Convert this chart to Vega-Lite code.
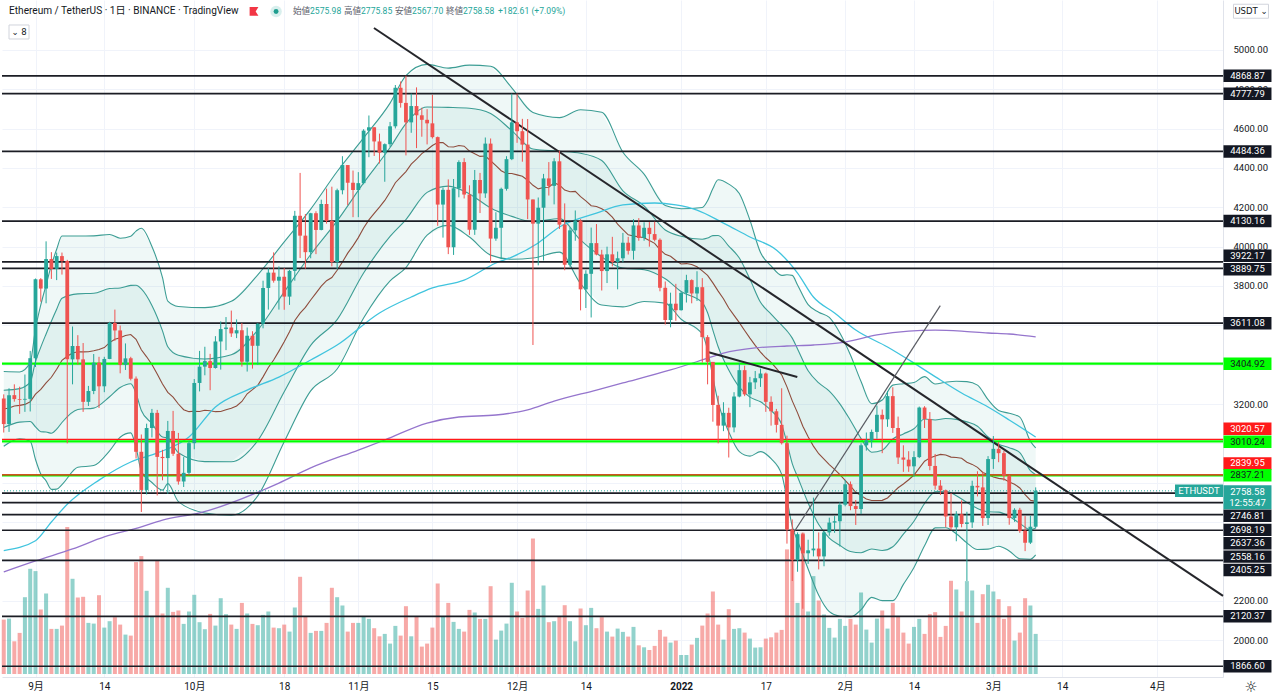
{
  "$schema": "https://vega.github.io/schema/vega-lite/v6.json",
  "width": 1221,
  "height": 677,
  "padding": 0,
  "autosize": {"type": "pad"},
  "background": "white",
  "config": {"view": {"stroke": null}, "text": {"font": "Roboto, Noto Sans CJK JP"}, "scale": {"continuousPadding": 0}},
  "datasets": {
    "k": [
      {"d":"2021-08-26","o":3228,"h":3249,"l":3055,"c":3098,"v":544,"m":3175},
      {"d":"2021-08-27","o":3098,"h":3280,"l":3058,"c":3245,"v":554,"m":3180},
      {"d":"2021-08-28","o":3245,"h":3300,"l":3212,"c":3225,"v":327,"m":3190},
      {"d":"2021-08-29","o":3225,"h":3288,"l":3150,"c":3222,"v":411,"m":3193},
      {"d":"2021-08-30","o":3222,"h":3350,"l":3160,"c":3226,"v":768,"m":3198},
      {"d":"2021-08-31","o":3226,"h":3470,"l":3162,"c":3433,"v":1052,"m":3211},
      {"d":"2021-09-01","o":3433,"h":3838,"l":3388,"c":3834,"v":1029,"m":3250},
      {"d":"2021-09-02","o":3834,"h":3840,"l":3720,"c":3787,"v":645,"m":3274},
      {"d":"2021-09-03","o":3787,"h":4027,"l":3712,"c":3937,"v":805,"m":3307},
      {"d":"2021-09-04","o":3937,"h":3972,"l":3836,"c":3887,"v":451,"m":3336},
      {"d":"2021-09-05","o":3887,"h":3970,"l":3830,"c":3952,"v":451,"m":3377},
      {"d":"2021-09-06","o":3952,"h":3970,"l":3858,"c":3927,"v":484,"m":3422},
      {"d":"2021-09-07","o":3927,"h":3933,"l":3000,"c":3427,"v":1470,"m":3443},
      {"d":"2021-09-08","o":3427,"h":3594,"l":3300,"c":3495,"v":952,"m":3459},
      {"d":"2021-09-09","o":3495,"h":3550,"l":3400,"c":3427,"v":765,"m":3466},
      {"d":"2021-09-10","o":3427,"h":3510,"l":3160,"c":3211,"v":772,"m":3465},
      {"d":"2021-09-11","o":3211,"h":3292,"l":3190,"c":3266,"v":511,"m":3466},
      {"d":"2021-09-12","o":3266,"h":3454,"l":3250,"c":3410,"v":504,"m":3471},
      {"d":"2021-09-13","o":3410,"h":3440,"l":3180,"c":3290,"v":788,"m":3477},
      {"d":"2021-09-14","o":3290,"h":3440,"l":3260,"c":3429,"v":464,"m":3487},
      {"d":"2021-09-15","o":3429,"h":3618,"l":3428,"c":3612,"v":528,"m":3512},
      {"d":"2021-09-16","o":3612,"h":3680,"l":3521,"c":3574,"v":568,"m":3529},
      {"d":"2021-09-17","o":3574,"h":3599,"l":3356,"c":3399,"v":494,"m":3537},
      {"d":"2021-09-18","o":3399,"h":3508,"l":3373,"c":3432,"v":394,"m":3548},
      {"d":"2021-09-19","o":3432,"h":3440,"l":3320,"c":3329,"v":384,"m":3553},
      {"d":"2021-09-20","o":3329,"h":3340,"l":2923,"c":2957,"v":1119,"m":3529},
      {"d":"2021-09-21","o":2957,"h":3045,"l":2651,"c":2763,"v":1179,"m":3476},
      {"d":"2021-09-22","o":2763,"h":3100,"l":2740,"c":3078,"v":832,"m":3440},
      {"d":"2021-09-23","o":3078,"h":3175,"l":3030,"c":3155,"v":578,"m":3401},
      {"d":"2021-09-24","o":3155,"h":3170,"l":2735,"c":2931,"v":1136,"m":3353},
      {"d":"2021-09-25","o":2931,"h":2967,"l":2812,"c":2925,"v":605,"m":3302},
      {"d":"2021-09-26","o":2925,"h":3114,"l":2743,"c":3063,"v":862,"m":3259},
      {"d":"2021-09-27","o":3063,"h":3165,"l":2936,"c":2947,"v":621,"m":3235},
      {"d":"2021-09-28","o":2947,"h":3053,"l":2790,"c":2806,"v":635,"m":3200},
      {"d":"2021-09-29","o":2806,"h":2930,"l":2778,"c":2850,"v":501,"m":3171},
      {"d":"2021-09-30","o":2850,"h":3013,"l":2840,"c":3001,"v":625,"m":3161},
      {"d":"2021-10-01","o":3001,"h":3327,"l":2970,"c":3307,"v":792,"m":3163},
      {"d":"2021-10-02","o":3307,"h":3470,"l":3264,"c":3390,"v":518,"m":3162},
      {"d":"2021-10-03","o":3390,"h":3491,"l":3346,"c":3418,"v":448,"m":3168},
      {"d":"2021-10-04","o":3418,"h":3455,"l":3270,"c":3383,"v":601,"m":3166},
      {"d":"2021-10-05","o":3383,"h":3545,"l":3380,"c":3518,"v":484,"m":3161},
      {"d":"2021-10-06","o":3518,"h":3620,"l":3375,"c":3581,"v":758,"m":3162},
      {"d":"2021-10-07","o":3581,"h":3642,"l":3474,"c":3589,"v":598,"m":3171},
      {"d":"2021-10-08","o":3589,"h":3675,"l":3541,"c":3559,"v":494,"m":3178},
      {"d":"2021-10-09","o":3559,"h":3630,"l":3535,"c":3575,"v":451,"m":3190},
      {"d":"2021-10-10","o":3575,"h":3612,"l":3390,"c":3415,"v":711,"m":3213},
      {"d":"2021-10-11","o":3415,"h":3589,"l":3365,"c":3547,"v":605,"m":3252},
      {"d":"2021-10-12","o":3547,"h":3570,"l":3380,"c":3496,"v":501,"m":3273},
      {"d":"2021-10-13","o":3496,"h":3611,"l":3400,"c":3608,"v":488,"m":3295},
      {"d":"2021-10-14","o":3608,"h":3827,"l":3585,"c":3790,"v":591,"m":3338},
      {"d":"2021-10-15","o":3790,"h":3890,"l":3680,"c":3868,"v":625,"m":3386},
      {"d":"2021-10-16","o":3868,"h":3971,"l":3817,"c":3827,"v":464,"m":3424},
      {"d":"2021-10-17","o":3827,"h":3900,"l":3680,"c":3847,"v":458,"m":3469},
      {"d":"2021-10-18","o":3847,"h":3891,"l":3679,"c":3746,"v":494,"m":3516},
      {"d":"2021-10-19","o":3746,"h":3882,"l":3704,"c":3877,"v":424,"m":3567},
      {"d":"2021-10-20","o":3877,"h":4182,"l":3827,"c":4157,"v":665,"m":3625},
      {"d":"2021-10-21","o":4157,"h":4375,"l":3942,"c":4056,"v":972,"m":3662},
      {"d":"2021-10-22","o":4056,"h":4166,"l":3888,"c":3972,"v":574,"m":3691},
      {"d":"2021-10-23","o":3972,"h":4172,"l":3941,"c":4170,"v":411,"m":3729},
      {"d":"2021-10-24","o":4170,"h":4180,"l":3962,"c":4085,"v":431,"m":3764},
      {"d":"2021-10-25","o":4085,"h":4239,"l":4083,"c":4217,"v":431,"m":3799},
      {"d":"2021-10-26","o":4217,"h":4295,"l":4117,"c":4131,"v":511,"m":3827},
      {"d":"2021-10-27","o":4131,"h":4305,"l":3900,"c":3922,"v":862,"m":3843},
      {"d":"2021-10-28","o":3922,"h":4295,"l":3885,"c":4287,"v":768,"m":3880},
      {"d":"2021-10-29","o":4287,"h":4460,"l":4266,"c":4415,"v":685,"m":3922},
      {"d":"2021-10-30","o":4415,"h":4415,"l":4211,"c":4325,"v":424,"m":3967},
      {"d":"2021-10-31","o":4325,"h":4387,"l":4150,"c":4288,"v":511,"m":4004},
      {"d":"2021-11-01","o":4288,"h":4379,"l":4150,"c":4323,"v":511,"m":4046},
      {"d":"2021-11-02","o":4323,"h":4597,"l":4317,"c":4590,"v":571,"m":4095},
      {"d":"2021-11-03","o":4590,"h":4667,"l":4455,"c":4607,"v":551,"m":4136},
      {"d":"2021-11-04","o":4607,"h":4607,"l":4461,"c":4535,"v":458,"m":4169},
      {"d":"2021-11-05","o":4535,"h":4575,"l":4423,"c":4478,"v":377,"m":4201},
      {"d":"2021-11-06","o":4478,"h":4525,"l":4330,"c":4521,"v":401,"m":4235},
      {"d":"2021-11-07","o":4521,"h":4634,"l":4507,"c":4612,"v":304,"m":4278},
      {"d":"2021-11-08","o":4612,"h":4822,"l":4601,"c":4808,"v":481,"m":4325},
      {"d":"2021-11-09","o":4808,"h":4840,"l":4707,"c":4731,"v":384,"m":4354},
      {"d":"2021-11-10","o":4731,"h":4869,"l":4464,"c":4632,"v":678,"m":4382},
      {"d":"2021-11-11","o":4632,"h":4778,"l":4579,"c":4715,"v":377,"m":4420},
      {"d":"2021-11-12","o":4715,"h":4810,"l":4501,"c":4668,"v":571,"m":4445},
      {"d":"2021-11-13","o":4668,"h":4706,"l":4559,"c":4645,"v":274,"m":4473},
      {"d":"2021-11-14","o":4645,"h":4699,"l":4520,"c":4627,"v":304,"m":4493},
      {"d":"2021-11-15","o":4627,"h":4772,"l":4550,"c":4557,"v":464,"m":4514},
      {"d":"2021-11-16","o":4557,"h":4560,"l":4106,"c":4214,"v":905,"m":4529},
      {"d":"2021-11-17","o":4214,"h":4300,"l":4046,"c":4289,"v":578,"m":4529},
      {"d":"2021-11-18","o":4289,"h":4342,"l":3962,"c":3997,"v":711,"m":4508},
      {"d":"2021-11-19","o":3997,"h":4344,"l":3958,"c":4297,"v":521,"m":4507},
      {"d":"2021-11-20","o":4297,"h":4439,"l":4251,"c":4430,"v":451,"m":4514},
      {"d":"2021-11-21","o":4430,"h":4450,"l":4245,"c":4265,"v":424,"m":4511},
      {"d":"2021-11-22","o":4265,"h":4312,"l":4060,"c":4086,"v":641,"m":4486},
      {"d":"2021-11-23","o":4086,"h":4390,"l":4060,"c":4339,"v":615,"m":4472},
      {"d":"2021-11-24","o":4339,"h":4375,"l":4171,"c":4271,"v":551,"m":4459},
      {"d":"2021-11-25","o":4271,"h":4555,"l":4248,"c":4524,"v":551,"m":4461},
      {"d":"2021-11-26","o":4524,"h":4550,"l":3919,"c":4041,"v":878,"m":4437},
      {"d":"2021-11-27","o":4041,"h":4175,"l":4030,"c":4096,"v":344,"m":4412},
      {"d":"2021-11-28","o":4096,"h":4300,"l":3936,"c":4294,"v":434,"m":4386},
      {"d":"2021-11-29","o":4294,"h":4460,"l":4285,"c":4445,"v":504,"m":4372},
      {"d":"2021-11-30","o":4445,"h":4778,"l":4440,"c":4632,"v":912,"m":4372},
      {"d":"2021-12-01","o":4632,"h":4778,"l":4528,"c":4587,"v":625,"m":4365},
      {"d":"2021-12-02","o":4587,"h":4650,"l":4432,"c":4519,"v":561,"m":4358},
      {"d":"2021-12-03","o":4519,"h":4649,"l":4140,"c":4240,"v":835,"m":4338},
      {"d":"2021-12-04","o":4240,"h":4240,"l":3500,"c":4117,"v":1356,"m":4312},
      {"d":"2021-12-05","o":4117,"h":4250,"l":3905,"c":4198,"v":651,"m":4294},
      {"d":"2021-12-06","o":4198,"h":4370,"l":3930,"c":4347,"v":885,"m":4301},
      {"d":"2021-12-07","o":4347,"h":4430,"l":4260,"c":4309,"v":518,"m":4302},
      {"d":"2021-12-08","o":4309,"h":4450,"l":4215,"c":4434,"v":528,"m":4324},
      {"d":"2021-12-09","o":4434,"h":4488,"l":4090,"c":4112,"v":571,"m":4314},
      {"d":"2021-12-10","o":4112,"h":4220,"l":3880,"c":3908,"v":688,"m":4288},
      {"d":"2021-12-11","o":3908,"h":4098,"l":3898,"c":4083,"v":528,"m":4279},
      {"d":"2021-12-12","o":4083,"h":4184,"l":4030,"c":4132,"v":327,"m":4281},
      {"d":"2021-12-13","o":4132,"h":4140,"l":3676,"c":3783,"v":655,"m":4254},
      {"d":"2021-12-14","o":3783,"h":3880,"l":3688,"c":3862,"v":488,"m":4233},
      {"d":"2021-12-15","o":3862,"h":4097,"l":3640,"c":4018,"v":661,"m":4208},
      {"d":"2021-12-16","o":4018,"h":4115,"l":3956,"c":3960,"v":458,"m":4204},
      {"d":"2021-12-17","o":3960,"h":3984,"l":3777,"c":3876,"v":568,"m":4193},
      {"d":"2021-12-18","o":3876,"h":4000,"l":3815,"c":3961,"v":424,"m":4176},
      {"d":"2021-12-19","o":3961,"h":4050,"l":3900,"c":3922,"v":374,"m":4150},
      {"d":"2021-12-20","o":3922,"h":3975,"l":3783,"c":3941,"v":454,"m":4115},
      {"d":"2021-12-21","o":3941,"h":4070,"l":3920,"c":4020,"v":421,"m":4087},
      {"d":"2021-12-22","o":4020,"h":4050,"l":3960,"c":3979,"v":374,"m":4060},
      {"d":"2021-12-23","o":3979,"h":4140,"l":3934,"c":4108,"v":471,"m":4054},
      {"d":"2021-12-24","o":4108,"h":4145,"l":4030,"c":4044,"v":287,"m":4050},
      {"d":"2021-12-25","o":4044,"h":4124,"l":4030,"c":4096,"v":267,"m":4045},
      {"d":"2021-12-26","o":4096,"h":4125,"l":4000,"c":4064,"v":240,"m":4031},
      {"d":"2021-12-27","o":4064,"h":4127,"l":4027,"c":4035,"v":281,"m":4017},
      {"d":"2021-12-28","o":4035,"h":4042,"l":3773,"c":3791,"v":441,"m":3985},
      {"d":"2021-12-29","o":3791,"h":3823,"l":3604,"c":3627,"v":374,"m":3961},
      {"d":"2021-12-30","o":3627,"h":3766,"l":3590,"c":3710,"v":314,"m":3951},
      {"d":"2021-12-31","o":3710,"h":3811,"l":3623,"c":3677,"v":334,"m":3930},
      {"d":"2022-01-01","o":3677,"h":3770,"l":3675,"c":3765,"v":190,"m":3912},
      {"d":"2022-01-02","o":3765,"h":3857,"l":3716,"c":3830,"v":190,"m":3914},
      {"d":"2022-01-03","o":3830,"h":3834,"l":3712,"c":3762,"v":294,"m":3909},
      {"d":"2022-01-04","o":3762,"h":3875,"l":3724,"c":3794,"v":361,"m":3898},
      {"d":"2022-01-05","o":3794,"h":3840,"l":3410,"c":3540,"v":484,"m":3877},
      {"d":"2022-01-06","o":3540,"h":3550,"l":3300,"c":3414,"v":605,"m":3854},
      {"d":"2022-01-07","o":3414,"h":3414,"l":3110,"c":3195,"v":825,"m":3816},
      {"d":"2022-01-08","o":3195,"h":3242,"l":3000,"c":3090,"v":494,"m":3774},
      {"d":"2022-01-09","o":3090,"h":3209,"l":3062,"c":3155,"v":344,"m":3735},
      {"d":"2022-01-10","o":3155,"h":3181,"l":2928,"c":3081,"v":648,"m":3688},
      {"d":"2022-01-11","o":3081,"h":3260,"l":3056,"c":3238,"v":451,"m":3651},
      {"d":"2022-01-12","o":3238,"h":3410,"l":3234,"c":3372,"v":458,"m":3614},
      {"d":"2022-01-13","o":3372,"h":3395,"l":3240,"c":3249,"v":414,"m":3574},
      {"d":"2022-01-14","o":3249,"h":3338,"l":3184,"c":3310,"v":354,"m":3535},
      {"d":"2022-01-15","o":3310,"h":3368,"l":3276,"c":3331,"v":264,"m":3498},
      {"d":"2022-01-16","o":3331,"h":3380,"l":3287,"c":3355,"v":267,"m":3464},
      {"d":"2022-01-17","o":3355,"h":3360,"l":3160,"c":3211,"v":354,"m":3435},
      {"d":"2022-01-18","o":3211,"h":3239,"l":3090,"c":3163,"v":367,"m":3412},
      {"d":"2022-01-19","o":3163,"h":3175,"l":3055,"c":3094,"v":414,"m":3381},
      {"d":"2022-01-20","o":3094,"h":3280,"l":2994,"c":3001,"v":441,"m":3348},
      {"d":"2022-01-21","o":3001,"h":3039,"l":2490,"c":2561,"v":1246,"m":3287},
      {"d":"2022-01-22","o":2561,"h":2613,"l":2300,"c":2406,"v":1446,"m":3216},
      {"d":"2022-01-23","o":2406,"h":2547,"l":2347,"c":2538,"v":711,"m":3155},
      {"d":"2022-01-24","o":2538,"h":2546,"l":2159,"c":2441,"v":1413,"m":3087},
      {"d":"2022-01-25","o":2441,"h":2510,"l":2387,"c":2456,"v":625,"m":3033},
      {"d":"2022-01-26","o":2456,"h":2724,"l":2425,"c":2465,"v":979,"m":2986},
      {"d":"2022-01-27","o":2465,"h":2547,"l":2359,"c":2425,"v":735,"m":2947},
      {"d":"2022-01-28","o":2425,"h":2555,"l":2375,"c":2547,"v":595,"m":2920},
      {"d":"2022-01-29","o":2547,"h":2622,"l":2530,"c":2597,"v":461,"m":2892},
      {"d":"2022-01-30","o":2597,"h":2630,"l":2545,"c":2604,"v":364,"m":2868},
      {"d":"2022-01-31","o":2604,"h":2700,"l":2475,"c":2688,"v":551,"m":2841},
      {"d":"2022-02-01","o":2688,"h":2814,"l":2680,"c":2792,"v":481,"m":2812},
      {"d":"2022-02-02","o":2792,"h":2806,"l":2660,"c":2681,"v":551,"m":2783},
      {"d":"2022-02-03","o":2681,"h":2712,"l":2585,"c":2666,"v":494,"m":2751},
      {"d":"2022-02-04","o":2666,"h":3000,"l":2640,"c":2990,"v":815,"m":2734},
      {"d":"2022-02-05","o":2990,"h":3055,"l":2963,"c":3015,"v":444,"m":2717},
      {"d":"2022-02-06","o":3015,"h":3070,"l":2978,"c":3058,"v":314,"m":2709},
      {"d":"2022-02-07","o":3058,"h":3192,"l":3023,"c":3145,"v":554,"m":2709},
      {"d":"2022-02-08","o":3145,"h":3172,"l":2950,"c":3122,"v":635,"m":2710},
      {"d":"2022-02-09","o":3122,"h":3266,"l":3084,"c":3240,"v":454,"m":2722},
      {"d":"2022-02-10","o":3240,"h":3285,"l":3053,"c":3078,"v":711,"m":2748},
      {"d":"2022-02-11","o":3078,"h":3136,"l":2895,"c":2928,"v":578,"m":2774},
      {"d":"2022-02-12","o":2928,"h":2990,"l":2855,"c":2917,"v":414,"m":2793},
      {"d":"2022-02-13","o":2917,"h":2960,"l":2855,"c":2883,"v":304,"m":2815},
      {"d":"2022-02-14","o":2883,"h":2960,"l":2830,"c":2930,"v":471,"m":2839},
      {"d":"2022-02-15","o":2930,"h":3187,"l":2925,"c":3182,"v":551,"m":2874},
      {"d":"2022-02-16","o":3182,"h":3189,"l":3078,"c":3124,"v":401,"m":2909},
      {"d":"2022-02-17","o":3124,"h":3159,"l":2863,"c":2885,"v":598,"m":2926},
      {"d":"2022-02-18","o":2885,"h":2946,"l":2765,"c":2785,"v":618,"m":2936},
      {"d":"2022-02-19","o":2785,"h":2813,"l":2737,"c":2761,"v":371,"m":2944},
      {"d":"2022-02-20","o":2761,"h":2765,"l":2573,"c":2628,"v":481,"m":2941},
      {"d":"2022-02-21","o":2628,"h":2747,"l":2559,"c":2573,"v":932,"m":2930},
      {"d":"2022-02-22","o":2573,"h":2655,"l":2502,"c":2640,"v":845,"m":2928},
      {"d":"2022-02-23","o":2640,"h":2710,"l":2573,"c":2590,"v":625,"m":2924},
      {"d":"2022-02-24","o":2590,"h":2652,"l":2300,"c":2598,"v":929,"m":2904},
      {"d":"2022-02-25","o":2598,"h":2810,"l":2570,"c":2784,"v":835,"m":2893},
      {"d":"2022-02-26","o":2784,"h":2858,"l":2730,"c":2776,"v":511,"m":2878},
      {"d":"2022-02-27","o":2776,"h":2855,"l":2580,"c":2620,"v":798,"m":2852},
      {"d":"2022-02-28","o":2620,"h":2935,"l":2585,"c":2920,"v":892,"m":2842},
      {"d":"2022-03-01","o":2920,"h":3037,"l":2870,"c":2972,"v":825,"m":2829},
      {"d":"2022-03-02","o":2972,"h":3007,"l":2904,"c":2950,"v":748,"m":2822},
      {"d":"2022-03-03","o":2950,"h":2962,"l":2810,"c":2835,"v":551,"m":2818},
      {"d":"2022-03-04","o":2835,"h":2840,"l":2586,"c":2620,"v":678,"m":2803},
      {"d":"2022-03-05","o":2620,"h":2670,"l":2601,"c":2662,"v":334,"m":2792},
      {"d":"2022-03-06","o":2662,"h":2672,"l":2545,"c":2555,"v":414,"m":2773},
      {"d":"2022-03-07","o":2555,"h":2630,"l":2452,"c":2495,"v":758,"m":2739},
      {"d":"2022-03-08","o":2495,"h":2632,"l":2488,"c":2576,"v":685,"m":2711},
      {"d":"2022-03-09","o":2576,"h":2776,"l":2568,"c":2759,"v":401,"m":2705}
    ],
    "bb": [
      {"d":"2021-08-26","u2":3365,"u1":3270,"l1":3080,"l2":2985},
      {"d":"2021-08-29","u2":3363,"u1":3278,"l1":3108,"l2":3023},
      {"d":"2021-08-31","u2":3411,"u1":3311,"l1":3111,"l2":3011},
      {"d":"2021-09-01","u2":3582,"u1":3416,"l1":3084,"l2":2918},
      {"d":"2021-09-02","u2":3704,"u1":3489,"l1":3059,"l2":2844},
      {"d":"2021-09-03","u2":3805,"u1":3556,"l1":3058,"l2":2809},
      {"d":"2021-09-04","u2":3906,"u1":3621,"l1":3051,"l2":2766},
      {"d":"2021-09-05","u2":3987,"u1":3682,"l1":3072,"l2":2767},
      {"d":"2021-09-06","u2":4054,"u1":3738,"l1":3106,"l2":2790},
      {"d":"2021-09-09","u2":4054,"u1":3760,"l1":3172,"l2":2878},
      {"d":"2021-09-12","u2":4055,"u1":3763,"l1":3179,"l2":2887},
      {"d":"2021-09-15","u2":4062,"u1":3787,"l1":3237,"l2":2962},
      {"d":"2021-09-17","u2":4043,"u1":3790,"l1":3284,"l2":3031},
      {"d":"2021-09-19","u2":4053,"u1":3803,"l1":3303,"l2":3053},
      {"d":"2021-09-20","u2":4079,"u1":3804,"l1":3254,"l2":2979},
      {"d":"2021-09-21","u2":4094,"u1":3785,"l1":3167,"l2":2858},
      {"d":"2021-09-23","u2":4001,"u1":3701,"l1":3101,"l2":2801},
      {"d":"2021-09-25","u2":3842,"u1":3572,"l1":3032,"l2":2762},
      {"d":"2021-09-26","u2":3723,"u1":3491,"l1":3027,"l2":2795},
      {"d":"2021-09-28","u2":3696,"u1":3448,"l1":2952,"l2":2704},
      {"d":"2021-10-03","u2":3690,"u1":3429,"l1":2907,"l2":2646},
      {"d":"2021-10-08","u2":3722,"u1":3450,"l1":2906,"l2":2634},
      {"d":"2021-10-13","u2":3857,"u1":3576,"l1":3014,"l2":2733},
      {"d":"2021-10-18","u2":4024,"u1":3770,"l1":3262,"l2":3008},
      {"d":"2021-10-23","u2":4191,"u1":3960,"l1":3498,"l2":3267},
      {"d":"2021-10-28","u2":4382,"u1":4131,"l1":3629,"l2":3378},
      {"d":"2021-11-02","u2":4553,"u1":4324,"l1":3866,"l2":3637},
      {"d":"2021-11-07","u2":4730,"u1":4504,"l1":4052,"l2":3826},
      {"d":"2021-11-10","u2":4870,"u1":4626,"l1":4138,"l2":3894},
      {"d":"2021-11-14","u2":4927,"u1":4710,"l1":4276,"l2":4059},
      {"d":"2021-11-18","u2":4908,"u1":4708,"l1":4308,"l2":4108},
      {"d":"2021-11-22","u2":4923,"u1":4704,"l1":4268,"l2":4049},
      {"d":"2021-11-26","u2":4917,"u1":4677,"l1":4197,"l2":3957},
      {"d":"2021-11-30","u2":4808,"u1":4590,"l1":4154,"l2":3936},
      {"d":"2021-12-04","u2":4682,"u1":4497,"l1":4127,"l2":3942},
      {"d":"2021-12-09","u2":4656,"u1":4485,"l1":4143,"l2":3972},
      {"d":"2021-12-13","u2":4696,"u1":4475,"l1":4033,"l2":3812},
      {"d":"2021-12-17","u2":4683,"u1":4438,"l1":3948,"l2":3703},
      {"d":"2021-12-21","u2":4480,"u1":4284,"l1":3891,"l2":3694},
      {"d":"2021-12-25","u2":4369,"u1":4207,"l1":3883,"l2":3721},
      {"d":"2021-12-29","u2":4209,"u1":4085,"l1":3837,"l2":3713},
      {"d":"2022-01-01","u2":4193,"u1":4053,"l1":3772,"l2":3631},
      {"d":"2022-01-05","u2":4199,"u1":4038,"l1":3716,"l2":3555},
      {"d":"2022-01-06","u2":4234,"u1":4044,"l1":3664,"l2":3474},
      {"d":"2022-01-07","u2":4296,"u1":4056,"l1":3576,"l2":3336},
      {"d":"2022-01-08","u2":4340,"u1":4057,"l1":3491,"l2":3208},
      {"d":"2022-01-10","u2":4318,"u1":4003,"l1":3373,"l2":3058},
      {"d":"2022-01-12","u2":4270,"u1":3942,"l1":3286,"l2":2958},
      {"d":"2022-01-14","u2":4135,"u1":3835,"l1":3235,"l2":2935},
      {"d":"2022-01-16","u2":3970,"u1":3717,"l1":3211,"l2":2958},
      {"d":"2022-01-18","u2":3902,"u1":3657,"l1":3167,"l2":2922},
      {"d":"2022-01-20","u2":3854,"u1":3601,"l1":3095,"l2":2842},
      {"d":"2022-01-21","u2":3857,"u1":3572,"l1":3002,"l2":2717},
      {"d":"2022-01-22","u2":3854,"u1":3535,"l1":2897,"l2":2578},
      {"d":"2022-01-23","u2":3805,"u1":3480,"l1":2830,"l2":2505},
      {"d":"2022-01-25","u2":3705,"u1":3369,"l1":2697,"l2":2361},
      {"d":"2022-01-27","u2":3667,"u1":3307,"l1":2587,"l2":2227},
      {"d":"2022-01-29","u2":3640,"u1":3266,"l1":2518,"l2":2144},
      {"d":"2022-01-31","u2":3561,"u1":3201,"l1":2481,"l2":2121},
      {"d":"2022-02-02","u2":3449,"u1":3116,"l1":2450,"l2":2117},
      {"d":"2022-02-04","u2":3314,"u1":3024,"l1":2444,"l2":2154},
      {"d":"2022-02-06","u2":3201,"u1":2955,"l1":2463,"l2":2217},
      {"d":"2022-02-08","u2":3220,"u1":2965,"l1":2455,"l2":2200},
      {"d":"2022-02-10","u2":3296,"u1":3022,"l1":2474,"l2":2200},
      {"d":"2022-02-12","u2":3303,"u1":3048,"l1":2538,"l2":2283},
      {"d":"2022-02-14","u2":3309,"u1":3074,"l1":2604,"l2":2369},
      {"d":"2022-02-16","u2":3339,"u1":3124,"l1":2694,"l2":2479},
      {"d":"2022-02-18","u2":3302,"u1":3119,"l1":2753,"l2":2570},
      {"d":"2022-02-20","u2":3311,"u1":3126,"l1":2756,"l2":2571},
      {"d":"2022-02-22","u2":3316,"u1":3122,"l1":2734,"l2":2540},
      {"d":"2022-02-24","u2":3314,"u1":3109,"l1":2699,"l2":2494},
      {"d":"2022-02-26","u2":3296,"u1":3087,"l1":2669,"l2":2460},
      {"d":"2022-02-28","u2":3222,"u1":3032,"l1":2652,"l2":2462},
      {"d":"2022-03-02","u2":3167,"u1":2995,"l1":2650,"l2":2477},
      {"d":"2022-03-04","u2":3153,"u1":2978,"l1":2628,"l2":2453},
      {"d":"2022-03-06","u2":3133,"u1":2953,"l1":2593,"l2":2413},
      {"d":"2022-03-08","u2":3011,"u1":2861,"l1":2561,"l2":2411},
      {"d":"2022-03-09","u2":2977,"u1":2841,"l1":2569,"l2":2433}
    ],
    "ma50": [
      {"d":"2021-08-26","p":2455},{"d":"2021-09-01","p":2505},{"d":"2021-09-04","p":2600},
      {"d":"2021-09-07","p":2690},{"d":"2021-09-13","p":2813},{"d":"2021-09-19","p":2905},
      {"d":"2021-09-24","p":2951},{"d":"2021-09-30","p":3032},{"d":"2021-10-05","p":3185},
      {"d":"2021-10-11","p":3271},{"d":"2021-10-17","p":3337},{"d":"2021-10-23","p":3424},
      {"d":"2021-10-28","p":3500},{"d":"2021-11-05","p":3663},{"d":"2021-11-11","p":3744},
      {"d":"2021-11-15","p":3790},{"d":"2021-11-21","p":3830},{"d":"2021-11-27","p":3917},
      {"d":"2021-11-30","p":3947},{"d":"2021-12-05","p":4019},{"d":"2021-12-09","p":4100},
      {"d":"2021-12-16","p":4171},{"d":"2021-12-21","p":4212},{"d":"2021-12-27","p":4222},
      {"d":"2021-12-31","p":4212},{"d":"2022-01-04","p":4186},{"d":"2022-01-09","p":4120},
      {"d":"2022-01-14","p":4049},{"d":"2022-01-19","p":3983},{"d":"2022-01-23","p":3866},
      {"d":"2022-01-26","p":3744},{"d":"2022-01-30","p":3663},{"d":"2022-02-03","p":3576},
      {"d":"2022-02-09","p":3490},{"d":"2022-02-14","p":3408},{"d":"2022-02-19","p":3322},
      {"d":"2022-02-23","p":3256},{"d":"2022-02-28","p":3185},{"d":"2022-03-04","p":3119},
      {"d":"2022-03-09","p":3032}
    ],
    "ma200": [
      {"d":"2021-08-26","p":2346},{"d":"2021-09-01","p":2402},{"d":"2021-09-08","p":2463},
      {"d":"2021-09-14","p":2524},{"d":"2021-09-21","p":2575},{"d":"2021-09-25","p":2610},
      {"d":"2021-10-02","p":2646},{"d":"2021-10-17","p":2798},{"d":"2021-10-23","p":2875},
      {"d":"2021-11-01","p":2966},{"d":"2021-11-06","p":3017},{"d":"2021-11-14","p":3103},
      {"d":"2021-11-20","p":3134},{"d":"2021-11-27","p":3144},{"d":"2021-12-03","p":3170},
      {"d":"2021-12-08","p":3215},{"d":"2021-12-16","p":3271},{"d":"2021-12-21","p":3307},
      {"d":"2021-12-30","p":3373},{"d":"2022-01-05","p":3424},{"d":"2022-01-09","p":3459},
      {"d":"2022-01-15","p":3485},{"d":"2022-01-21","p":3495},{"d":"2022-01-26","p":3500},
      {"d":"2022-02-01","p":3515},{"d":"2022-02-07","p":3551},{"d":"2022-02-13","p":3571},
      {"d":"2022-02-18","p":3576},{"d":"2022-02-23","p":3571},{"d":"2022-02-28","p":3561},
      {"d":"2022-03-04","p":3556},{"d":"2022-03-09","p":3541}
    ],
    "lv": [
      {"p":4868.87,"k":"black","tag":4868.87},
      {"p":4777.79,"k":"black","tag":4777.79},
      {"p":4484.36,"k":"black","tag":4484.36},
      {"p":4130.16,"k":"black","tag":4130.16},
      {"p":3922.17,"k":"black","tag":3954},
      {"p":3889.75,"k":"black","tag":3885},
      {"p":3611.08,"k":"black","tag":3611.08},
      {"p":3404.92,"k":"green","tag":3404.92},
      {"p":3020.57,"k":"red","tag":3074},
      {"p":3010.24,"k":"green","tag":3008},
      {"p":2839.95,"k":"red","tag":2898},
      {"p":2837.21,"k":"green","tag":2837.21},
      {"p":2746.81,"k":"black","tag":2632},
      {"p":2698.19,"k":"black","tag":2560},
      {"p":2637.36,"k":"black","tag":2492},
      {"p":2558.16,"k":"black","tag":2424},
      {"p":2405.25,"k":"black","tag":2356},
      {"p":2120.37,"k":"black","tag":2120.37},
      {"p":1866.6,"k":"black","tag":1866.6}
    ],
    "tl": [
      {"id":"a","d":"2021-11-03T23:00:00Z","p":5112},
      {"id":"a","d":"2022-04-13T09:29:00Z","p":2224},
      {"id":"b","d":"2022-01-06T05:00:00Z","p":3463},
      {"id":"b","d":"2022-01-22T22:50:00Z","p":3337},
      {"id":"c","d":"2022-01-22T08:00:00Z","p":2549},
      {"id":"c","d":"2022-02-18T23:20:00Z","p":3700}
    ]
  },
  "resolve": {"scale": {"y": "independent"}},
  "layer": [
    {
      "data": {"name": "k"},
      "mark": {"type": "bar", "width": 4, "opacity": 0.5},
      "encoding": {
        "x": {
          "field": "d", "type": "temporal", "title": null,
          "scale": {"type": "utc", "padding": 0, "nice": false, "domain": [
            {"year": 2021, "month": 8, "date": 25, "hours": 16, "minutes": 4, "utc": true},
            {"year": 2022, "month": 4, "date": 13, "hours": 9, "minutes": 29, "utc": true}
          ]},
          "axis": {
            "values": [
              {"year": 2021, "month": 9, "date": 1, "utc": true},
              {"year": 2021, "month": 9, "date": 14, "utc": true},
              {"year": 2021, "month": 10, "date": 1, "utc": true},
              {"year": 2021, "month": 10, "date": 18, "utc": true},
              {"year": 2021, "month": 11, "date": 1, "utc": true},
              {"year": 2021, "month": 11, "date": 15, "utc": true},
              {"year": 2021, "month": 12, "date": 1, "utc": true},
              {"year": 2021, "month": 12, "date": 14, "utc": true},
              {"year": 2022, "month": 1, "date": 1, "utc": true},
              {"year": 2022, "month": 1, "date": 17, "utc": true},
              {"year": 2022, "month": 2, "date": 1, "utc": true},
              {"year": 2022, "month": 2, "date": 14, "utc": true},
              {"year": 2022, "month": 3, "date": 1, "utc": true},
              {"year": 2022, "month": 3, "date": 14, "utc": true},
              {"year": 2022, "month": 4, "date": 1, "utc": true}
            ],
            "labelExpr": "utcdate(datum.value) == 1 ? (utcmonth(datum.value) == 0 ? '' + utcyear(datum.value) : (utcmonth(datum.value) + 1) + '月') : '' + utcdate(datum.value)",
            "labelFontWeight": {"condition": {"test": "utcdate(datum.value) == 1 && utcmonth(datum.value) == 0", "value": "bold"}, "value": "normal"},
            "grid": true, "gridColor": "#f0f3fa", "gridWidth": 1,
            "domainColor": "#e0e3eb", "ticks": false,
            "labelPadding": 4, "labelFontSize": 10, "labelColor": "#131722",
            "labelFont": "Roboto, Noto Sans CJK JP",
            "labelFlush": false, "labelOverlap": false, "labelBound": false
          }
        },
        "y": {"field": "v", "type": "quantitative", "scale": {"domain": [-30, 6740], "nice": false, "zero": false}, "axis": null},
        "color": {"condition": {"test": "datum.c >= datum.o", "value": "#26a69a"}, "value": "#ef5350"}
      }
    },
    {
      "layer": [
        {
          "data": {"name": "bb"},
          "mark": {"type": "area", "color": "#26a69a", "opacity": 0.075},
          "encoding": {
            "x": {"field": "d", "type": "temporal", "title": null},
            "y": {
              "field": "u2", "type": "quantitative", "title": null,
              "scale": {"domain": [1811.9, 5254.2], "nice": false, "zero": false},
              "axis": {
                "orient": "right", "title": null,
                "values": [2000, 2200, 2400, 2600, 2800, 3000, 3200, 3400, 3600, 3800, 4000, 4200, 4400, 4600, 4800, 5000],
                "labelExpr": "indexof([2400, 2600, 2800, 3000, 3400, 3600], datum.value) >= 0 ? '' : format(datum.value, '.2f')",
                "grid": true, "gridColor": "#f0f3fa", "gridWidth": 1,
                "domainColor": "#e0e3eb", "ticks": false, "labelPadding": 10,
                "labelFont": "Roboto", "labelFontSize": 9.5, "labelColor": "#131722"
              }
            },
            "y2": {"field": "l2"}
          }
        },
        {
          "data": {"name": "bb"},
          "mark": {"type": "area", "color": "#26a69a", "opacity": 0.075},
          "encoding": {
            "x": {"field": "d", "type": "temporal", "title": null},
            "y": {"field": "u1", "type": "quantitative", "title": null},
            "y2": {"field": "l1"}
          }
        },
        {
          "data": {"name": "bb"},
          "transform": [{"fold": ["u2", "u1", "l1", "l2"], "as": ["band", "val"]}],
          "mark": {"type": "line", "color": "#3c9d94", "strokeWidth": 1.1, "interpolate": "monotone"},
          "encoding": {
            "x": {"field": "d", "type": "temporal", "title": null},
            "y": {"field": "val", "type": "quantitative", "title": null},
            "detail": {"field": "band"}
          }
        },
        {
          "data": {"name": "k"},
          "mark": {"type": "line", "color": "#8e4c3c", "strokeWidth": 1.1},
          "encoding": {
            "x": {"field": "d", "type": "temporal", "title": null},
            "y": {"field": "m", "type": "quantitative", "title": null}
          }
        },
        {
          "data": {"name": "ma50"},
          "mark": {"type": "line", "color": "#40c4de", "strokeWidth": 1.3, "interpolate": "monotone"},
          "encoding": {
            "x": {"field": "d", "type": "temporal", "title": null},
            "y": {"field": "p", "type": "quantitative", "title": null}
          }
        },
        {
          "data": {"name": "ma200"},
          "mark": {"type": "line", "color": "#9575cd", "strokeWidth": 1.3, "interpolate": "monotone"},
          "encoding": {
            "x": {"field": "d", "type": "temporal", "title": null},
            "y": {"field": "p", "type": "quantitative", "title": null}
          }
        },
        {
          "data": {"name": "lv"},
          "transform": [{"filter": "datum.k == 'black'"}],
          "mark": {"type": "rule", "color": "#1b1d24", "strokeWidth": 1.7},
          "encoding": {"y": {"field": "p", "type": "quantitative", "title": null}}
        },
        {
          "data": {"name": "lv"},
          "transform": [{"filter": "datum.k == 'green'"}],
          "mark": {"type": "rule", "color": "#00ff00", "strokeWidth": 2.2},
          "encoding": {"y": {"field": "p", "type": "quantitative", "title": null}}
        },
        {
          "data": {"name": "lv"},
          "transform": [{"filter": "datum.k == 'red'"}],
          "mark": {"type": "rule", "color": "#ff1a1a", "strokeWidth": 1.3},
          "encoding": {"y": {"field": "p", "type": "quantitative", "title": null}}
        },
        {
          "data": {"values": [{}]},
          "mark": {"type": "rule", "color": "#26a69a", "strokeWidth": 1, "strokeDash": [1, 2]},
          "encoding": {"y": {"datum": 2758.58, "type": "quantitative"}}
        },
        {
          "data": {"name": "tl"},
          "transform": [{"filter": "datum.id != 'c'"}],
          "mark": {"type": "line", "color": "#25262b", "strokeWidth": 2},
          "encoding": {
            "x": {"field": "d", "type": "temporal", "title": null},
            "y": {"field": "p", "type": "quantitative", "title": null},
            "detail": {"field": "id"}
          }
        },
        {
          "data": {"name": "tl"},
          "transform": [{"filter": "datum.id == 'c'"}],
          "mark": {"type": "line", "color": "#5a5c63", "strokeWidth": 1.2},
          "encoding": {
            "x": {"field": "d", "type": "temporal", "title": null},
            "y": {"field": "p", "type": "quantitative", "title": null}
          }
        },
        {
          "data": {"name": "k"},
          "mark": {"type": "rule", "strokeWidth": 1},
          "encoding": {
            "x": {"field": "d", "type": "temporal", "title": null},
            "y": {"field": "l", "type": "quantitative", "title": null},
            "y2": {"field": "h"},
            "color": {"condition": {"test": "datum.c >= datum.o", "value": "#26a69a"}, "value": "#ef5350"}
          }
        },
        {
          "data": {"name": "k"},
          "mark": {"type": "bar", "width": 3.8},
          "encoding": {
            "x": {"field": "d", "type": "temporal", "title": null},
            "y": {"field": "o", "type": "quantitative", "title": null},
            "y2": {"field": "c"},
            "color": {"condition": {"test": "datum.c >= datum.o", "value": "#26a69a"}, "value": "#ef5350"}
          }
        },
        {
          "data": {"name": "lv"},
          "mark": {"type": "point", "shape": "M-1,-0.26H1V0.26H-1Z", "size": 2304, "filled": true, "opacity": 1, "strokeWidth": 0},
          "encoding": {
            "x": {"datum": {"year": 2022, "month": 4, "date": 18, "hours": 0, "minutes": 30, "utc": true}, "type": "temporal"},
            "y": {"field": "tag", "type": "quantitative", "title": null},
            "color": {"condition": [{"test": "datum.k == 'green'", "value": "#00ff00"}, {"test": "datum.k == 'red'", "value": "#ff1a1a"}], "value": "#131722"}
          }
        },
        {
          "data": {"name": "lv"},
          "mark": {"type": "text", "font": "Roboto", "fontSize": 9.5, "align": "center", "baseline": "middle"},
          "encoding": {
            "x": {"datum": {"year": 2022, "month": 4, "date": 18, "hours": 0, "minutes": 30, "utc": true}, "type": "temporal"},
            "y": {"field": "tag", "type": "quantitative", "title": null},
            "text": {"field": "p", "type": "quantitative", "format": ".2f"},
            "color": {"condition": {"test": "datum.k == 'green'", "value": "#131722"}, "value": "#ffffff"}
          }
        },
        {
          "data": {"values": [{}]},
          "layer": [
            {
              "mark": {"type": "point", "shape": "M-1,-0.5H1V0.5H-1Z", "size": 2304, "filled": true, "opacity": 1, "strokeWidth": 0, "color": "#26a69a"},
              "encoding": {
                "x": {"datum": {"year": 2022, "month": 4, "date": 18, "hours": 0, "minutes": 30, "utc": true}, "type": "temporal"},
                "y": {"datum": 2725.6, "type": "quantitative"}
              }
            },
            {
              "mark": {"type": "text", "text": "2758.58", "font": "Roboto", "fontSize": 9.5, "color": "#ffffff", "align": "center", "baseline": "middle"},
              "encoding": {
                "x": {"datum": {"year": 2022, "month": 4, "date": 18, "hours": 0, "minutes": 30, "utc": true}, "type": "temporal"},
                "y": {"datum": 2752.6, "type": "quantitative"}
              }
            },
            {
              "mark": {"type": "text", "text": "12:55:47", "font": "Roboto", "fontSize": 9.5, "color": "#ffffff", "align": "center", "baseline": "middle"},
              "encoding": {
                "x": {"datum": {"year": 2022, "month": 4, "date": 18, "hours": 0, "minutes": 30, "utc": true}, "type": "temporal"},
                "y": {"datum": 2695, "type": "quantitative"}
              }
            },
            {
              "mark": {"type": "point", "shape": "M-1,-0.26H1V0.26H-1Z", "size": 2304, "filled": true, "opacity": 1, "strokeWidth": 0, "color": "#26a69a"},
              "encoding": {
                "x": {"datum": {"year": 2022, "month": 4, "date": 8, "hours": 20, "minutes": 40, "utc": true}, "type": "temporal"},
                "y": {"datum": 2758.58, "type": "quantitative"}
              }
            },
            {
              "mark": {"type": "text", "text": "ETHUSDT", "font": "Roboto", "fontSize": 9.5, "color": "#ffffff", "align": "center", "baseline": "middle"},
              "encoding": {
                "x": {"datum": {"year": 2022, "month": 4, "date": 8, "hours": 20, "minutes": 40, "utc": true}, "type": "temporal"},
                "y": {"datum": 2758.58, "type": "quantitative"}
              }
            },
            {
              "mark": {"type": "text", "text": "Ethereum / TetherUS · 1日 · BINANCE · TradingView", "fontSize": 10.1, "color": "#131722", "align": "left", "baseline": "middle"},
              "encoding": {
                "x": {"datum": {"year": 2021, "month": 8, "date": 27, "hours": 0, "utc": true}, "type": "temporal"},
                "y": {"datum": 5198, "type": "quantitative"}
              }
            },
            {
              "mark": {"type": "point", "shape": "M-0.8,-0.8H0.8L0.3,0L0.8,0.8H-0.8Z", "size": 121, "filled": true, "opacity": 1, "strokeWidth": 0, "color": "#f23645"},
              "encoding": {
                "x": {"datum": {"year": 2021, "month": 10, "date": 12, "hours": 7, "utc": true}, "type": "temporal"},
                "y": {"datum": 5196, "type": "quantitative"}
              }
            },
            {
              "mark": {"type": "point", "shape": "circle", "size": 130, "filled": true, "opacity": 0.18, "strokeWidth": 0, "color": "#26a69a"},
              "encoding": {
                "x": {"datum": {"year": 2021, "month": 10, "date": 16, "hours": 11, "utc": true}, "type": "temporal"},
                "y": {"datum": 5196, "type": "quantitative"}
              }
            },
            {
              "mark": {"type": "point", "shape": "circle", "size": 24, "filled": true, "opacity": 1, "strokeWidth": 0, "color": "#1f9e8f"},
              "encoding": {
                "x": {"datum": {"year": 2021, "month": 10, "date": 16, "hours": 11, "utc": true}, "type": "temporal"},
                "y": {"datum": 5196, "type": "quantitative"}
              }
            },
            {
              "mark": {"type": "text", "text": "始値", "fontSize": 8.6, "color": "#5d606b", "align": "left", "baseline": "middle"},
              "encoding": {"x": {"datum": {"year": 2021, "month": 10, "date": 19, "hours": 15, "minutes": 50, "utc": true}, "type": "temporal"}, "y": {"datum": 5198, "type": "quantitative"}}
            },
            {
              "mark": {"type": "text", "text": "2575.98", "fontSize": 8.6, "color": "#26a69a", "align": "left", "baseline": "middle"},
              "encoding": {"x": {"datum": {"year": 2021, "month": 10, "date": 22, "hours": 20, "minutes": 50, "utc": true}, "type": "temporal"}, "y": {"datum": 5198, "type": "quantitative"}}
            },
            {
              "mark": {"type": "text", "text": "高値", "fontSize": 8.6, "color": "#5d606b", "align": "left", "baseline": "middle"},
              "encoding": {"x": {"datum": {"year": 2021, "month": 10, "date": 29, "hours": 7, "minutes": 10, "utc": true}, "type": "temporal"}, "y": {"datum": 5198, "type": "quantitative"}}
            },
            {
              "mark": {"type": "text", "text": "2775.85", "fontSize": 8.6, "color": "#26a69a", "align": "left", "baseline": "middle"},
              "encoding": {"x": {"datum": {"year": 2021, "month": 11, "date": 1, "hours": 12, "minutes": 15, "utc": true}, "type": "temporal"}, "y": {"datum": 5198, "type": "quantitative"}}
            },
            {
              "mark": {"type": "text", "text": "安値", "fontSize": 8.6, "color": "#5d606b", "align": "left", "baseline": "middle"},
              "encoding": {"x": {"datum": {"year": 2021, "month": 11, "date": 7, "hours": 22, "minutes": 20, "utc": true}, "type": "temporal"}, "y": {"datum": 5198, "type": "quantitative"}}
            },
            {
              "mark": {"type": "text", "text": "2567.70", "fontSize": 8.6, "color": "#26a69a", "align": "left", "baseline": "middle"},
              "encoding": {"x": {"datum": {"year": 2021, "month": 11, "date": 11, "hours": 3, "minutes": 20, "utc": true}, "type": "temporal"}, "y": {"datum": 5198, "type": "quantitative"}}
            },
            {
              "mark": {"type": "text", "text": "終値", "fontSize": 8.6, "color": "#5d606b", "align": "left", "baseline": "middle"},
              "encoding": {"x": {"datum": {"year": 2021, "month": 11, "date": 17, "hours": 13, "minutes": 40, "utc": true}, "type": "temporal"}, "y": {"datum": 5198, "type": "quantitative"}}
            },
            {
              "mark": {"type": "text", "text": "2758.58", "fontSize": 8.6, "color": "#26a69a", "align": "left", "baseline": "middle"},
              "encoding": {"x": {"datum": {"year": 2021, "month": 11, "date": 20, "hours": 18, "minutes": 40, "utc": true}, "type": "temporal"}, "y": {"datum": 5198, "type": "quantitative"}}
            },
            {
              "mark": {"type": "text", "text": "+182.61 (+7.09%)", "fontSize": 8.6, "color": "#26a69a", "align": "left", "baseline": "middle"},
              "encoding": {"x": {"datum": {"year": 2021, "month": 11, "date": 27, "hours": 9, "minutes": 20, "utc": true}, "type": "temporal"}, "y": {"datum": 5198, "type": "quantitative"}}
            },
            {
              "mark": {"type": "point", "shape": "M-1,-0.7H1V0.7H-1Z", "size": 400, "filled": true, "opacity": 1, "fill": "#ffffff", "stroke": "#d1d4dc", "strokeWidth": 1},
              "encoding": {
                "x": {"datum": {"year": 2021, "month": 8, "date": 28, "hours": 21, "minutes": 10, "utc": true}, "type": "temporal"},
                "y": {"datum": 5091.5, "type": "quantitative"}
              }
            },
            {
              "mark": {"type": "text", "text": "⌄ 8", "font": "DejaVu Sans", "fontSize": 8.5, "color": "#131722", "align": "center", "baseline": "middle"},
              "encoding": {
                "x": {"datum": {"year": 2021, "month": 8, "date": 28, "hours": 21, "minutes": 10, "utc": true}, "type": "temporal"},
                "y": {"datum": 5091.5, "type": "quantitative"}
              }
            },
            {
              "mark": {"type": "point", "shape": "M-1,-0.4H1V0.4H-1Z", "size": 1225, "filled": true, "opacity": 1, "fill": "#ffffff", "stroke": "#d1d4dc", "strokeWidth": 1},
              "encoding": {
                "x": {"datum": {"year": 2022, "month": 4, "date": 18, "hours": 16, "minutes": 20, "utc": true}, "type": "temporal"},
                "y": {"datum": 5197, "type": "quantitative"}
              }
            },
            {
              "mark": {"type": "text", "text": "USDT ⌄", "font": "DejaVu Sans", "fontSize": 8.5, "color": "#131722", "align": "center", "baseline": "middle"},
              "encoding": {
                "x": {"datum": {"year": 2022, "month": 4, "date": 18, "hours": 16, "minutes": 20, "utc": true}, "type": "temporal"},
                "y": {"datum": 5197, "type": "quantitative"}
              }
            },
            {
              "mark": {"type": "text", "text": "☼", "font": "DejaVu Sans", "fontSize": 15, "color": "#131722", "align": "center", "baseline": "middle"},
              "encoding": {
                "x": {"datum": {"year": 2022, "month": 4, "date": 18, "hours": 16, "minutes": 20, "utc": true}, "type": "temporal"},
                "y": {"datum": 1762.6, "type": "quantitative"}
              }
            }
          ]
        }
      ]
    }
  ]
}
